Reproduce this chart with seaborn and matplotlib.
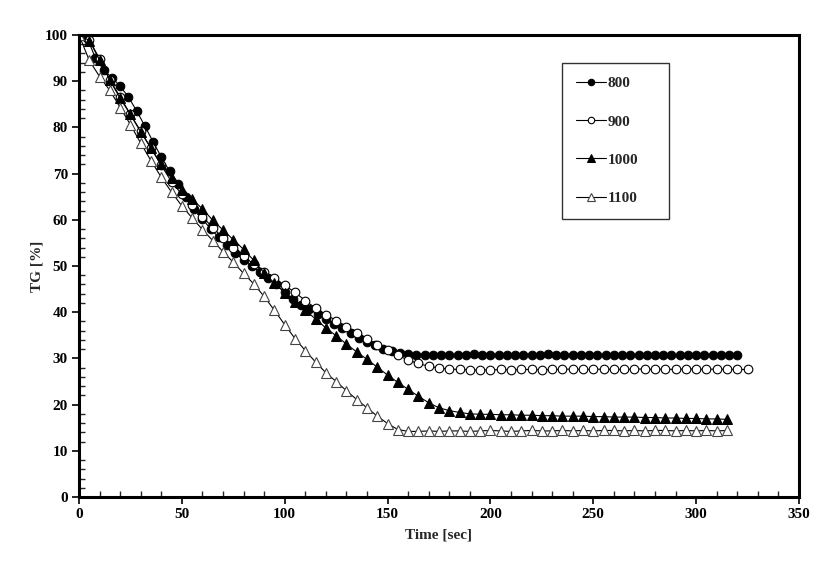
import matplotlib
matplotlib.use("Agg")
import matplotlib.pyplot as plt
import seaborn as sns
import numpy as np
import pandas as pd
from matplotlib.ticker import MultipleLocator

# ---- data ----
t_800 = list(range(0, 321, 4))
tg_800 = [100, 99.3, 95.0, 92.4, 90.8, 88.9, 86.6, 83.6, 80.3, 76.9, 73.6, 70.5, 67.8, 65.0,
          62.4, 60.2, 58.0, 56.2, 54.6, 52.8, 51.3, 49.9, 48.7, 47.4, 46.0, 44.3, 42.8, 41.6,
          40.6, 39.6, 38.5, 37.4, 36.5, 35.5, 34.5, 33.6, 32.8, 32.1, 31.5, 31.1, 30.9,
          30.8, 30.8, 30.7, 30.8, 30.8, 30.7, 30.8, 30.9, 30.8, 30.7, 30.8, 30.8, 30.8, 30.7,
          30.8, 30.8, 30.9, 30.8, 30.7, 30.8, 30.8, 30.8, 30.7, 30.8, 30.8, 30.8, 30.7, 30.8,
          30.8, 30.8, 30.8, 30.7, 30.8, 30.8, 30.8, 30.7, 30.8, 30.8, 30.8, 30.8]

t_900 = list(range(0, 326, 5))
tg_900 = [100, 99.0, 94.8, 90.3, 86.6, 82.8, 79.2, 75.5, 71.8, 68.2, 65.5, 63.2, 60.7, 58.3,
          56.1, 54.0, 52.1, 50.4, 48.8, 47.4, 45.8, 44.3, 42.5, 40.9, 39.5, 38.2, 36.9, 35.6,
          34.3, 33.0, 31.8, 30.7, 29.6, 28.9, 28.3, 27.9, 27.7, 27.6, 27.5, 27.5,
          27.5, 27.6, 27.5, 27.6, 27.6, 27.5, 27.6, 27.6, 27.7, 27.6, 27.6, 27.7, 27.6, 27.6,
          27.7, 27.7, 27.6, 27.7, 27.6, 27.7, 27.7, 27.6, 27.7, 27.6, 27.6, 27.6]

t_1000 = list(range(0, 316, 5))
tg_1000 = [100, 98.8, 94.6, 90.2, 86.3, 82.8, 79.0, 75.5, 72.0, 69.0, 66.5, 64.4, 62.4, 59.9,
           57.8, 55.7, 53.6, 51.2, 48.5, 46.3, 44.2, 42.3, 40.5, 38.5, 36.6, 34.9, 33.1, 31.4,
           29.8, 28.1, 26.4, 24.8, 23.3, 21.8, 20.4, 19.3, 18.7, 18.3, 18.0, 17.9, 17.9, 17.8,
           17.8, 17.7, 17.7, 17.6, 17.6, 17.5, 17.5, 17.5, 17.4, 17.4, 17.3, 17.3, 17.3, 17.2,
           17.2, 17.1, 17.1, 17.0, 17.0, 16.9, 16.9, 16.8]

t_1100 = list(range(0, 316, 5))
tg_1100 = [100, 94.5, 91.0, 88.0, 84.3, 80.6, 76.6, 72.8, 69.2, 66.0, 63.0, 60.4, 57.9, 55.5,
           53.1, 50.8, 48.4, 46.1, 43.4, 40.4, 37.3, 34.3, 31.7, 29.2, 26.9, 25.0, 23.0, 21.1,
           19.3, 17.5, 15.9, 14.6, 14.2,
           14.2, 14.3, 14.2, 14.3, 14.3, 14.2, 14.3, 14.4, 14.3, 14.2, 14.3, 14.4, 14.3, 14.3,
           14.4, 14.3, 14.4, 14.3, 14.4, 14.4, 14.3, 14.4, 14.3, 14.4, 14.4, 14.3, 14.4, 14.3,
           14.4, 14.3, 14.4]

series_labels = ["800", "900", "1000", "1100"]
x_ticks = [0, 50, 100, 150, 200, 250, 300, 350]
y_ticks = [0, 10, 20, 30, 40, 50, 60, 70, 80, 90, 100]

sns.set_theme(style="white")
plt.rcParams['font.family'] = ['Liberation Serif', 'DejaVu Serif']
plt.rcParams['font.weight'] = 'bold'

fig = plt.figure(figsize=(8.28, 5.85), dpi=100)
ax = fig.add_axes([79 / 828, 1 - 497 / 585, 720 / 828, 462 / 585])

styles = [
    dict(marker="o", markerfacecolor="black", markeredgecolor="black", markersize=6.2),
    dict(marker="o", markerfacecolor="white", markeredgecolor="black", markersize=6.2, markeredgewidth=0.8),
    dict(marker="^", markerfacecolor="black", markeredgecolor="black", markersize=6.8),
    dict(marker="^", markerfacecolor="white", markeredgecolor="#444444", markersize=7.5, markeredgewidth=0.8),
]
data = [(t_800, tg_800), (t_900, tg_900), (t_1000, tg_1000), (t_1100, tg_1100)]
for (tx, ty), lab, st in zip(data, series_labels, styles):
    sns.lineplot(x=tx, y=ty, ax=ax, color="black", linewidth=0.8, label=lab, **st)

ax.set_xlim(0, 350)
ax.set_ylim(0, 100)
ax.set_xticks(x_ticks)
ax.set_yticks(y_ticks)
ax.xaxis.set_minor_locator(MultipleLocator(10))
ax.yaxis.set_minor_locator(MultipleLocator(2))
ax.tick_params(axis="both", which="major", direction="out", length=5, width=1.2,
               labelsize=11, colors="black", bottom=True, left=True, pad=3)
ax.tick_params(axis="both", which="minor", direction="in", length=4, width=1.0,
               bottom=True, left=True)
for lbl in ax.get_xticklabels() + ax.get_yticklabels():
    lbl.set_fontweight("bold")

for sp in ax.spines.values():
    sp.set_visible(True)
    sp.set_color("black")
    sp.set_linewidth(2.2)

ax.set_xlabel("Time [sec]", fontsize=11, fontweight="bold", labelpad=5)
ax.set_ylabel("TG [%]", fontsize=11, fontweight="bold", labelpad=1)
ax.grid(False)

x0 = (562 - 79) / 720
y1 = (497 - 63) / 462
w = 107 / 720
h = 153 / 462
leg = ax.legend(loc="upper left", bbox_to_anchor=(x0, y1 - h, w, h), mode="expand",
                frameon=True, fancybox=False, shadow=False, borderaxespad=0,
                labelspacing=1.6, handlelength=2.0, handletextpad=0.1,
                borderpad=0.9, markerscale=0.75,
                prop={"weight": "bold", "size": 11})
leg.get_frame().set_edgecolor("black")
leg.get_frame().set_linewidth(1.0)

fig.savefig("out.png", dpi=100, facecolor="white")
